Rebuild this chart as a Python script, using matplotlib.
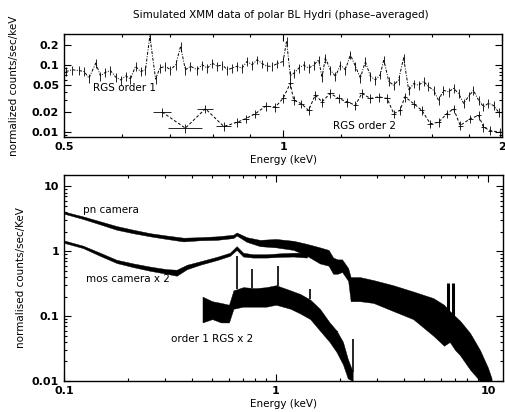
import numpy as np
import matplotlib
matplotlib.use('Agg')
import matplotlib.pyplot as plt
from matplotlib.ticker import LogLocator, FixedLocator, FixedFormatter, NullFormatter

# --- top panel: RGS spectra (keV, counts/sec/keV) ---
rgs1_e = [0.503, 0.513, 0.524, 0.533, 0.541, 0.553, 0.561, 0.570, 0.579, 0.589,
          0.598, 0.608, 0.617, 0.627, 0.637, 0.647, 0.656, 0.668, 0.677, 0.689,
          0.700, 0.712, 0.723, 0.734, 0.746, 0.762, 0.774, 0.787, 0.799, 0.812,
          0.825, 0.838, 0.851, 0.865, 0.878, 0.892, 0.907, 0.921, 0.936, 0.951,
          0.966, 0.981, 1.000, 1.011, 1.023, 1.034, 1.051, 1.067, 1.084, 1.102,
          1.119, 1.131, 1.143, 1.161, 1.180, 1.199, 1.218, 1.237, 1.257, 1.277,
          1.297, 1.318, 1.339, 1.360, 1.375, 1.397, 1.419, 1.441, 1.464, 1.488,
          1.511, 1.535, 1.560, 1.584, 1.610, 1.635, 1.661, 1.688, 1.715, 1.742,
          1.770, 1.798, 1.826, 1.856, 1.885, 1.915, 1.946, 1.977]
rgs1_v = [0.080, 0.085, 0.083, 0.080, 0.064, 0.107, 0.069, 0.078, 0.083, 0.066,
          0.060, 0.069, 0.062, 0.096, 0.080, 0.085, 0.270, 0.062, 0.090, 0.096,
          0.085, 0.101, 0.190, 0.085, 0.096, 0.085, 0.101, 0.090, 0.107, 0.096,
          0.101, 0.085, 0.090, 0.096, 0.090, 0.113, 0.101, 0.120, 0.105, 0.096,
          0.096, 0.105, 0.113, 0.228, 0.070, 0.075, 0.090, 0.100, 0.090, 0.100,
          0.120, 0.066, 0.128, 0.085, 0.068, 0.100, 0.085, 0.143, 0.096, 0.064,
          0.113, 0.068, 0.060, 0.072, 0.120, 0.057, 0.050, 0.060, 0.128, 0.042,
          0.053, 0.050, 0.057, 0.048, 0.042, 0.030, 0.042, 0.040, 0.045, 0.038,
          0.027, 0.034, 0.042, 0.030, 0.024, 0.027, 0.025, 0.020]

rgs2_e = [0.682, 0.734, 0.782, 0.829, 0.865, 0.888, 0.916, 0.946, 0.976, 1.000,
          1.023, 1.034, 1.059, 1.084, 1.107, 1.131, 1.161, 1.192, 1.224, 1.257,
          1.283, 1.318, 1.353, 1.390, 1.419, 1.448, 1.470, 1.511, 1.551, 1.593,
          1.635, 1.679, 1.715, 1.751, 1.808, 1.856, 1.885, 1.925, 1.987]
rgs2_v = [0.020, 0.0115, 0.0224, 0.0122, 0.0141, 0.0159, 0.0189, 0.0244, 0.0238, 0.032,
          0.0535, 0.030, 0.0267, 0.0212, 0.0358, 0.0284, 0.038, 0.0318, 0.0284, 0.0252,
          0.038, 0.0318, 0.0337, 0.0318, 0.0189, 0.0212, 0.0337, 0.0267, 0.0212, 0.0134,
          0.0141, 0.0189, 0.0224, 0.0126, 0.0159, 0.0178, 0.0119, 0.0106, 0.010]
rgs2_ebin = [0.020, 0.040, 0.020, 0.020, 0.010, 0.010, 0.010, 0.010, 0.010, 0.008,
             0.008, 0.008, 0.010, 0.010, 0.008, 0.008, 0.012, 0.012, 0.010, 0.010,
             0.010, 0.012, 0.012, 0.012, 0.012, 0.010, 0.010, 0.012, 0.012, 0.014,
             0.014, 0.014, 0.014, 0.014, 0.014, 0.014, 0.014, 0.014, 0.014]

# --- bottom panel: EPIC / RGS bands (energy, lower, upper) ---
pn_e = [0.1, 0.123, 0.148, 0.177, 0.212, 0.255, 0.305, 0.366, 0.438, 0.525,
        0.629, 0.652, 0.727, 0.84, 1.0, 1.21, 1.40, 1.61, 1.77, 1.86,
        1.95, 2.05, 2.19, 2.25, 2.49, 2.88, 3.57, 4.44, 5.52, 6.2,
        6.6, 7.0, 7.38, 8.23, 9.17, 10.0, 10.4]
pn_lo = [3.8, 3.15, 2.6, 2.15, 1.9, 1.7, 1.55, 1.42, 1.48, 1.5,
         1.6, 1.75, 1.4, 1.2, 1.15, 1.05, 0.85, 0.65, 0.6, 0.45,
         0.45, 0.48, 0.35, 0.17, 0.17, 0.16, 0.12, 0.09, 0.05, 0.035,
         0.04, 0.03, 0.025, 0.015, 0.01, 0.008, 0.008]
pn_hi = [4.1, 3.45, 2.9, 2.45, 2.15, 1.9, 1.75, 1.62, 1.65, 1.7,
         1.8, 1.95, 1.65, 1.5, 1.55, 1.45, 1.3, 1.15, 1.05, 0.8,
         0.75, 0.75, 0.55, 0.4, 0.4, 0.36, 0.3, 0.24, 0.19, 0.15,
         0.12, 0.1, 0.085, 0.055, 0.03, 0.016, 0.011]

mos_e = [0.1, 0.123, 0.148, 0.177, 0.212, 0.255, 0.305, 0.34, 0.38, 0.438,
         0.525, 0.606, 0.652, 0.70, 0.78, 0.9, 1.04, 1.21, 1.4]
mos_lo = [1.35, 1.12, 0.85, 0.66, 0.57, 0.5, 0.45, 0.42, 0.53, 0.62,
          0.73, 0.85, 1.05, 0.83, 0.8, 0.8, 0.82, 0.83, 0.8]
mos_hi = [1.47, 1.22, 0.95, 0.74, 0.65, 0.58, 0.53, 0.52, 0.62, 0.7,
          0.82, 0.95, 1.2, 0.95, 0.9, 0.9, 0.93, 0.95, 0.95]

rgsx2_e = [0.45, 0.50, 0.55, 0.60, 0.63, 0.70, 0.80, 0.90, 1.0, 1.17,
           1.30, 1.45, 1.61, 1.79, 1.93, 2.07, 2.18, 2.3]
rgsx2_lo = [0.08, 0.09, 0.08, 0.08, 0.13, 0.14, 0.14, 0.14, 0.15, 0.13,
            0.11, 0.09, 0.06, 0.04, 0.028, 0.018, 0.011, 0.010]
rgsx2_hi = [0.2, 0.17, 0.16, 0.15, 0.25, 0.28, 0.27, 0.28, 0.3, 0.25,
            0.22, 0.18, 0.13, 0.08, 0.06, 0.04, 0.022, 0.014]

# emission line spikes (energy, peak)
rgs_line_e = [0.654, 0.77, 1.02, 1.44, 1.95, 2.3]
rgs_line_top = [0.84, 0.53, 0.59, 0.26, 0.059, 0.044]
fe_line_e = [6.47, 6.84]
fe_line_top = [0.33, 0.32]

plt.rcParams['font.family'] = 'DejaVu Sans'
fig = plt.figure(figsize=(5.06, 4.12), dpi=100)

ax1 = fig.add_axes([0.1265, 0.6675, 0.866, 0.25])
ax2 = fig.add_axes([0.1265, 0.0752, 0.868, 0.5])

# top panel
v1 = np.array(rgs1_v)
ax1.errorbar(rgs1_e, rgs1_v, yerr=0.15 * v1, fmt='none', ecolor='k', elinewidth=0.6)
ax1.plot(rgs1_e, rgs1_v, color='k', ls='-.', lw=0.7, dashes=(3, 1.5, 1, 1.5))
v2 = np.array(rgs2_v)
ax1.errorbar(rgs2_e, rgs2_v, xerr=rgs2_ebin, yerr=0.15 * v2, fmt='none',
             ecolor='k', elinewidth=0.6)
ax1.plot(rgs2_e, rgs2_v, color='k', ls='--', lw=0.7, dashes=(3, 2))

ax1.set_xscale('log')
ax1.set_yscale('log')
ax1.set_xlim(0.5, 2.0)
ax1.set_ylim(0.0085, 0.29)
ax1.xaxis.set_major_locator(FixedLocator([0.5, 1, 2]))
ax1.xaxis.set_major_formatter(FixedFormatter(['0.5', '1', '2']))
ax1.xaxis.set_minor_locator(FixedLocator([0.6, 0.7, 0.8, 0.9, 1.2, 1.4, 1.6, 1.8]))
ax1.xaxis.set_minor_formatter(NullFormatter())
ax1.yaxis.set_major_locator(FixedLocator([0.01, 0.02, 0.05, 0.1, 0.2]))
ax1.yaxis.set_major_formatter(FixedFormatter(['0.01', '0.02', '0.05', '0.1', '0.2']))
ax1.yaxis.set_minor_locator(LogLocator(base=10, subs=np.arange(2, 10)))
ax1.yaxis.set_minor_formatter(NullFormatter())
ax1.set_xlabel('Energy (keV)', fontsize=7.5, labelpad=2)
ax1.set_ylabel('normalized counts/sec/keV', fontsize=7.5, labelpad=9)
ax1.text(0.548, 0.046, 'RGS order 1', fontsize=7.5, va='center')
ax1.text(1.17, 0.0124, 'RGS order 2', fontsize=7.5, va='center')

# bottom panel
ax2.fill_between(pn_e, pn_lo, pn_hi, color='k', lw=0.3)
ax2.fill_between(mos_e, mos_lo, mos_hi, color='k', lw=0.3)
ax2.fill_between(rgsx2_e, rgsx2_lo, rgsx2_hi, color='k', lw=0.3)
ax2.vlines(rgs_line_e, np.interp(rgs_line_e, rgsx2_e, rgsx2_hi), rgs_line_top,
           color='k', lw=1.2)
ax2.vlines(fe_line_e, 0.06, fe_line_top, color='k', lw=2.2)

ax2.set_xscale('log')
ax2.set_yscale('log')
ax2.set_xlim(0.1, 11.8)
ax2.set_ylim(0.01, 15)
ax2.xaxis.set_major_locator(FixedLocator([0.1, 1, 10]))
ax2.xaxis.set_major_formatter(FixedFormatter(['0.1', '1', '10']))
ax2.xaxis.set_minor_locator(LogLocator(base=10, subs=np.arange(2, 10)))
ax2.xaxis.set_minor_formatter(NullFormatter())
ax2.yaxis.set_major_locator(FixedLocator([0.01, 0.1, 1, 10]))
ax2.yaxis.set_major_formatter(FixedFormatter(['0.01', '0.1', '1', '10']))
ax2.yaxis.set_minor_locator(LogLocator(base=10, subs=np.arange(2, 10)))
ax2.yaxis.set_minor_formatter(NullFormatter())
ax2.set_xlabel('Energy (keV)', fontsize=7.5, labelpad=2)
ax2.set_ylabel('normalised counts/sec/KeV', fontsize=7.5, labelpad=4)
ax2.text(0.123, 4.3, 'pn camera', fontsize=7.5, va='center')
ax2.text(0.127, 0.37, 'mos camera x 2', fontsize=7.5, va='center')
ax2.text(0.32, 0.045, 'order 1 RGS x 2', fontsize=7.5, va='center')

for ax in (ax1, ax2):
    for s in ax.spines.values():
        s.set_linewidth(1.0)
    ax.tick_params(which='both', direction='in', top=True, right=True, width=0.8)
    ax.tick_params(which='major', length=5, labelsize=8)
    ax.tick_params(which='minor', length=2.5)
    for lab in ax.get_xticklabels() + ax.get_yticklabels():
        lab.set_fontweight('bold')

fig.text(0.555, 0.964, 'Simulated XMM data of polar BL Hydri (phase\u2013averaged)',
         fontsize=7.5, ha='center', va='center')

fig.savefig('out.png', dpi=100)
